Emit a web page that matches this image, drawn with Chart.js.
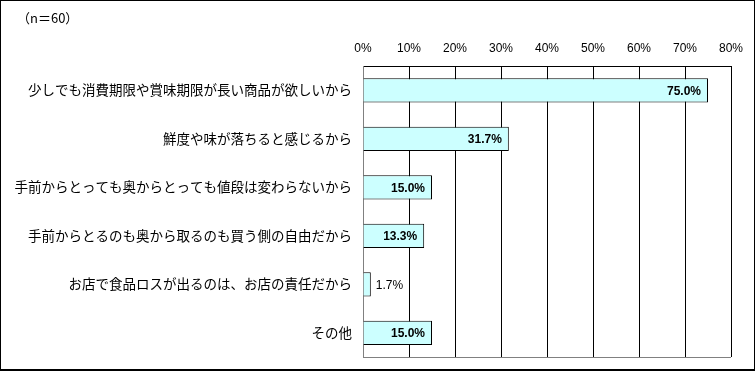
<!DOCTYPE html>
<html>
<head>
<meta charset="utf-8">
<script src="https://cdn.jsdelivr.net/npm/chart.js@4"></script>
<style>
  body { margin: 0; background: #fff; }
  #wrap { position: relative; width: 755px; height: 371px; box-sizing: border-box; border: 1px solid #000; border-bottom-width: 2px; }
  canvas { position: absolute; left: -1px; top: -1px; }
</style>
</head>
<body>
<div id="wrap"><canvas id="myChart" width="756" height="371"></canvas></div>
<script>
  const categories = [
    '少しでも消費期限や賞味期限が長い商品が欲しいから',
    '鮮度や味が落ちると感じるから',
    '手前からとっても奥からとっても値段は変わらないから',
    '手前からとるのも奥から取るのも買う側の自由だから',
    'お店で食品ロスが出るのは、お店の責任だから',
    'その他'
  ];
  const values = [75.0, 31.7, 15.0, 13.3, 1.7, 15.0];
  const sampleNote = '（n＝60）';

  const jpFont = '"Noto Sans CJK JP", "Noto Sans", sans-serif';
  const numFont = '"Liberation Sans", Arial, sans-serif';

  // value labels, bottom border and the (n=60) note
  const extras = {
    id: 'extras',
    afterDatasetsDraw(chart) {
      const { ctx, chartArea } = chart;
      const meta = chart.getDatasetMeta(0);
      ctx.save();
      ctx.textBaseline = 'middle';
      ctx.fillStyle = '#000';
      meta.data.forEach((bar, i) => {
        const v = values[i];
        const txt = v.toFixed(1) + '%';
        if (v < 5) {
          ctx.font = '12px ' + numFont;
          ctx.textAlign = 'left';
          ctx.fillText(txt, bar.x + 5, bar.y + 1);
        } else {
          ctx.font = 'bold 12px ' + numFont;
          ctx.textAlign = 'right';
          ctx.fillText(txt, bar.x - 7, bar.y + 1);
        }
      });
      ctx.strokeStyle = '#808080';
      ctx.lineWidth = 1;
      ctx.beginPath();
      ctx.moveTo(chartArea.left, chartArea.bottom + 0.5);
      ctx.lineTo(chartArea.right, chartArea.bottom + 0.5);
      ctx.stroke();
      ctx.font = '13px ' + jpFont;
      ctx.textAlign = 'left';
      ctx.fillText(sampleNote, 17, 18);
      ctx.restore();
    }
  };

  const ctx = document.getElementById('myChart').getContext('2d');

  new Chart(ctx, {
    type: 'bar',
    data: {
      labels: categories,
      datasets: [{
        data: values,
        backgroundColor: '#ccffff',
        borderColor: '#000',
        borderWidth: 1,
        categoryPercentage: 0.5,
        barPercentage: 1.0
      }]
    },
    options: {
      indexAxis: 'y',
      responsive: false,
      animation: false,
      layout: { padding: { top: 0, right: 25, bottom: 14, left: 0 } },
      plugins: {
        legend: { display: false },
        tooltip: { enabled: false }
      },
      scales: {
        x: {
          position: 'top',
          min: 0,
          max: 80,
          ticks: {
            stepSize: 10,
            padding: 10,
            color: '#000',
            font: { size: 12, family: numFont },
            callback: v => v + '%'
          },
          grid: { color: '#000', drawTicks: false },
          border: { color: '#000' },
          afterFit(scale) { scale.height = 66; }
        },
        y: {
          ticks: {
            padding: 3,
            color: '#000',
            font: { size: 13.5, family: jpFont }
          },
          grid: { display: false },
          border: { color: '#808080' },
          afterFit(scale) { scale.width = 363; }
        }
      }
    },
    plugins: [extras]
  });
</script>
</body>
</html>
